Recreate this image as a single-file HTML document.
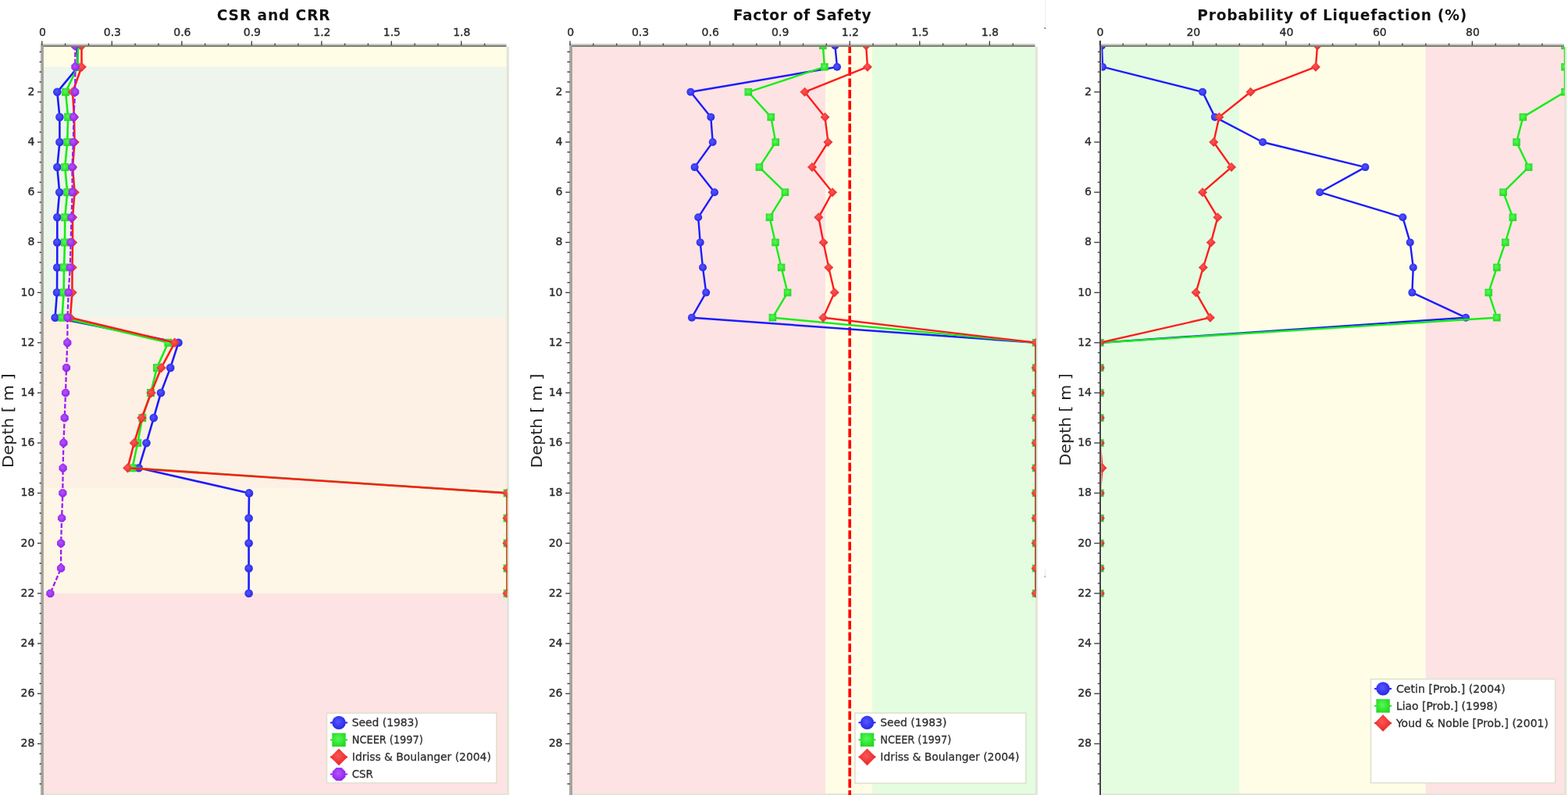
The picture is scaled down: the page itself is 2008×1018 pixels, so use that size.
<!DOCTYPE html><html><head><meta charset="utf-8"><title>Liquefaction charts</title><style>html,body{margin:0;padding:0;background:#fff}body{width:2008px;height:1018px;overflow:hidden}svg{display:block}</style></head><body><svg width="2008" height="1018" viewBox="0 0 2008 1018">
<style>.t{font:bold 18.6px "DejaVu Sans",sans-serif;fill:#111}.n{font:14px "DejaVu Sans",sans-serif;fill:#2a2a2a;stroke:#2a2a2a;stroke-width:0.35px}.l{font:13.8px "DejaVu Sans",sans-serif;fill:#303030;stroke:#303030;stroke-width:0.3px}.d{font:19px "DejaVu Sans",sans-serif;fill:#222}</style>
<defs><radialGradient id="gb" cx="45%" cy="42%" r="60%"><stop offset="0" stop-color="#5656ff"/><stop offset="1" stop-color="#2626e6"/></radialGradient><radialGradient id="gg" cx="45%" cy="42%" r="60%"><stop offset="0" stop-color="#55fb55"/><stop offset="1" stop-color="#25d825"/></radialGradient><radialGradient id="gr" cx="45%" cy="42%" r="60%"><stop offset="0" stop-color="#ff5555"/><stop offset="1" stop-color="#e42424"/></radialGradient><radialGradient id="gp" cx="45%" cy="42%" r="60%"><stop offset="0" stop-color="#b455ff"/><stop offset="1" stop-color="#8e22e8"/></radialGradient></defs>
<rect width="2008" height="1018" fill="#fff"/>
<clipPath id="c1"><rect x="54" y="60" width="595.5" height="958"/></clipPath>
<rect x="54" y="60" width="594.5" height="25.7" fill="#fffde6"/>
<rect x="54" y="85.7" width="594.5" height="321" fill="#eef5ec"/>
<rect x="54" y="406.7" width="594.5" height="218.3" fill="#fdf0e4"/>
<rect x="54" y="625" width="594.5" height="134.8" fill="#fef6e6"/>
<rect x="54" y="759.8" width="594.5" height="258.2" fill="#fde3e3"/>
<rect x="648.5" y="60" width="3.4" height="958" fill="#e3e5d6"/>
<rect x="54" y="1016" width="597.0" height="2" fill="#e3e5d6"/>
<text x="350.2" y="26" text-anchor="middle" class="t" textLength="145" lengthAdjust="spacing">CSR and CRR</text>
<text x="54.4" y="45.8" text-anchor="middle" class="n">0</text>
<text x="143.9" y="45.8" text-anchor="middle" class="n">0.3</text>
<text x="233.4" y="45.8" text-anchor="middle" class="n">0.6</text>
<text x="322.9" y="45.8" text-anchor="middle" class="n">0.9</text>
<text x="412.4" y="45.8" text-anchor="middle" class="n">1.2</text>
<text x="501.9" y="45.8" text-anchor="middle" class="n">1.5</text>
<text x="591.3" y="45.8" text-anchor="middle" class="n">1.8</text>
<rect x="52" y="56" width="596.5" height="2" fill="#c9c9cb"/>
<rect x="52" y="58" width="596.5" height="2" fill="#7e7f6f"/>
<rect x="52" y="56" width="2.2" height="962" fill="#adadad"/>
<rect x="54" y="58" width="1.8" height="960" fill="#9c9c8c"/>
<rect x="53.1" y="52.5" width="1.4" height="5.5" fill="#444"/>
<rect x="82.9" y="55.5" width="1.4" height="2.5" fill="#444"/>
<rect x="112.8" y="55.5" width="1.4" height="2.5" fill="#444"/>
<rect x="142.6" y="52.5" width="1.4" height="5.5" fill="#444"/>
<rect x="172.4" y="55.5" width="1.4" height="2.5" fill="#444"/>
<rect x="202.2" y="55.5" width="1.4" height="2.5" fill="#444"/>
<rect x="232.1" y="52.5" width="1.4" height="5.5" fill="#444"/>
<rect x="261.9" y="55.5" width="1.4" height="2.5" fill="#444"/>
<rect x="291.7" y="55.5" width="1.4" height="2.5" fill="#444"/>
<rect x="321.6" y="52.5" width="1.4" height="5.5" fill="#444"/>
<rect x="351.4" y="55.5" width="1.4" height="2.5" fill="#444"/>
<rect x="381.2" y="55.5" width="1.4" height="2.5" fill="#444"/>
<rect x="411.1" y="52.5" width="1.4" height="5.5" fill="#444"/>
<rect x="440.9" y="55.5" width="1.4" height="2.5" fill="#444"/>
<rect x="470.7" y="55.5" width="1.4" height="2.5" fill="#444"/>
<rect x="500.6" y="52.5" width="1.4" height="5.5" fill="#444"/>
<rect x="530.4" y="55.5" width="1.4" height="2.5" fill="#444"/>
<rect x="560.2" y="55.5" width="1.4" height="2.5" fill="#444"/>
<rect x="590" y="52.5" width="1.4" height="5.5" fill="#444"/>
<rect x="619.9" y="55.5" width="1.4" height="2.5" fill="#444"/>
<rect x="50.5" y="65.7" width="2.5" height="1.4" fill="#444"/>
<rect x="50.5" y="78.6" width="2.5" height="1.4" fill="#444"/>
<rect x="50.5" y="91.4" width="2.5" height="1.4" fill="#444"/>
<rect x="50.5" y="104.3" width="2.5" height="1.4" fill="#444"/>
<rect x="48" y="117.1" width="5" height="1.4" fill="#444"/>
<text x="44.4" y="121.8" text-anchor="end" class="n">2</text>
<rect x="50.5" y="129.9" width="2.5" height="1.4" fill="#444"/>
<rect x="50.5" y="142.8" width="2.5" height="1.4" fill="#444"/>
<rect x="50.5" y="155.6" width="2.5" height="1.4" fill="#444"/>
<rect x="50.5" y="168.5" width="2.5" height="1.4" fill="#444"/>
<rect x="48" y="181.3" width="5" height="1.4" fill="#444"/>
<text x="44.4" y="186" text-anchor="end" class="n">4</text>
<rect x="50.5" y="194.1" width="2.5" height="1.4" fill="#444"/>
<rect x="50.5" y="207" width="2.5" height="1.4" fill="#444"/>
<rect x="50.5" y="219.8" width="2.5" height="1.4" fill="#444"/>
<rect x="50.5" y="232.7" width="2.5" height="1.4" fill="#444"/>
<rect x="48" y="245.5" width="5" height="1.4" fill="#444"/>
<text x="44.4" y="250.2" text-anchor="end" class="n">6</text>
<rect x="50.5" y="258.3" width="2.5" height="1.4" fill="#444"/>
<rect x="50.5" y="271.2" width="2.5" height="1.4" fill="#444"/>
<rect x="50.5" y="284" width="2.5" height="1.4" fill="#444"/>
<rect x="50.5" y="296.9" width="2.5" height="1.4" fill="#444"/>
<rect x="48" y="309.7" width="5" height="1.4" fill="#444"/>
<text x="44.4" y="314.4" text-anchor="end" class="n">8</text>
<rect x="50.5" y="322.5" width="2.5" height="1.4" fill="#444"/>
<rect x="50.5" y="335.4" width="2.5" height="1.4" fill="#444"/>
<rect x="50.5" y="348.2" width="2.5" height="1.4" fill="#444"/>
<rect x="50.5" y="361.1" width="2.5" height="1.4" fill="#444"/>
<rect x="48" y="373.9" width="5" height="1.4" fill="#444"/>
<text x="44.4" y="378.6" text-anchor="end" class="n">10</text>
<rect x="50.5" y="386.7" width="2.5" height="1.4" fill="#444"/>
<rect x="50.5" y="399.6" width="2.5" height="1.4" fill="#444"/>
<rect x="50.5" y="412.4" width="2.5" height="1.4" fill="#444"/>
<rect x="50.5" y="425.3" width="2.5" height="1.4" fill="#444"/>
<rect x="48" y="438.1" width="5" height="1.4" fill="#444"/>
<text x="44.4" y="442.8" text-anchor="end" class="n">12</text>
<rect x="50.5" y="450.9" width="2.5" height="1.4" fill="#444"/>
<rect x="50.5" y="463.8" width="2.5" height="1.4" fill="#444"/>
<rect x="50.5" y="476.6" width="2.5" height="1.4" fill="#444"/>
<rect x="50.5" y="489.5" width="2.5" height="1.4" fill="#444"/>
<rect x="48" y="502.3" width="5" height="1.4" fill="#444"/>
<text x="44.4" y="507" text-anchor="end" class="n">14</text>
<rect x="50.5" y="515.1" width="2.5" height="1.4" fill="#444"/>
<rect x="50.5" y="528" width="2.5" height="1.4" fill="#444"/>
<rect x="50.5" y="540.8" width="2.5" height="1.4" fill="#444"/>
<rect x="50.5" y="553.7" width="2.5" height="1.4" fill="#444"/>
<rect x="48" y="566.5" width="5" height="1.4" fill="#444"/>
<text x="44.4" y="571.2" text-anchor="end" class="n">16</text>
<rect x="50.5" y="579.3" width="2.5" height="1.4" fill="#444"/>
<rect x="50.5" y="592.2" width="2.5" height="1.4" fill="#444"/>
<rect x="50.5" y="605" width="2.5" height="1.4" fill="#444"/>
<rect x="50.5" y="617.9" width="2.5" height="1.4" fill="#444"/>
<rect x="48" y="630.7" width="5" height="1.4" fill="#444"/>
<text x="44.4" y="635.4" text-anchor="end" class="n">18</text>
<rect x="50.5" y="643.5" width="2.5" height="1.4" fill="#444"/>
<rect x="50.5" y="656.4" width="2.5" height="1.4" fill="#444"/>
<rect x="50.5" y="669.2" width="2.5" height="1.4" fill="#444"/>
<rect x="50.5" y="682.1" width="2.5" height="1.4" fill="#444"/>
<rect x="48" y="694.9" width="5" height="1.4" fill="#444"/>
<text x="44.4" y="699.6" text-anchor="end" class="n">20</text>
<rect x="50.5" y="707.7" width="2.5" height="1.4" fill="#444"/>
<rect x="50.5" y="720.6" width="2.5" height="1.4" fill="#444"/>
<rect x="50.5" y="733.4" width="2.5" height="1.4" fill="#444"/>
<rect x="50.5" y="746.3" width="2.5" height="1.4" fill="#444"/>
<rect x="48" y="759.1" width="5" height="1.4" fill="#444"/>
<text x="44.4" y="763.8" text-anchor="end" class="n">22</text>
<rect x="50.5" y="771.9" width="2.5" height="1.4" fill="#444"/>
<rect x="50.5" y="784.8" width="2.5" height="1.4" fill="#444"/>
<rect x="50.5" y="797.6" width="2.5" height="1.4" fill="#444"/>
<rect x="50.5" y="810.5" width="2.5" height="1.4" fill="#444"/>
<rect x="48" y="823.3" width="5" height="1.4" fill="#444"/>
<text x="44.4" y="828" text-anchor="end" class="n">24</text>
<rect x="50.5" y="836.1" width="2.5" height="1.4" fill="#444"/>
<rect x="50.5" y="849" width="2.5" height="1.4" fill="#444"/>
<rect x="50.5" y="861.8" width="2.5" height="1.4" fill="#444"/>
<rect x="50.5" y="874.7" width="2.5" height="1.4" fill="#444"/>
<rect x="48" y="887.5" width="5" height="1.4" fill="#444"/>
<text x="44.4" y="892.2" text-anchor="end" class="n">26</text>
<rect x="50.5" y="900.3" width="2.5" height="1.4" fill="#444"/>
<rect x="50.5" y="913.2" width="2.5" height="1.4" fill="#444"/>
<rect x="50.5" y="926" width="2.5" height="1.4" fill="#444"/>
<rect x="50.5" y="938.9" width="2.5" height="1.4" fill="#444"/>
<rect x="48" y="951.7" width="5" height="1.4" fill="#444"/>
<text x="44.4" y="956.4" text-anchor="end" class="n">28</text>
<rect x="50.5" y="964.5" width="2.5" height="1.4" fill="#444"/>
<rect x="50.5" y="977.4" width="2.5" height="1.4" fill="#444"/>
<rect x="50.5" y="990.2" width="2.5" height="1.4" fill="#444"/>
<rect x="50.5" y="1003.1" width="2.5" height="1.4" fill="#444"/>
<text transform="translate(16.6,538.6) rotate(-90)" text-anchor="middle" class="d" textLength="120.8" lengthAdjust="spacingAndGlyphs">Depth [ m ]</text>
<g clip-path="url(#c1)"><polyline points="98,58.4 100,85.7 73.3,117.8 76.4,149.9 76.4,182 73.3,214.1 76.2,246.2 73.3,278.3 73.3,310.4 73.2,342.5 73,374.6 70.6,406.7 228.5,438.8 218.2,470.9 206,503 196.8,535.1 187.5,567.2 177.7,599.3 319,631.4 318.6,663.5 318.6,695.6 318.6,727.7 318.6,759.8" fill="none" stroke="#1c1cff" stroke-width="2.6" stroke-linejoin="round"/><circle cx="98" cy="58.4" r="5.3" fill="url(#gb)"/><circle cx="100" cy="85.7" r="5.3" fill="url(#gb)"/><circle cx="73.3" cy="117.8" r="5.3" fill="url(#gb)"/><circle cx="76.4" cy="149.9" r="5.3" fill="url(#gb)"/><circle cx="76.4" cy="182" r="5.3" fill="url(#gb)"/><circle cx="73.3" cy="214.1" r="5.3" fill="url(#gb)"/><circle cx="76.2" cy="246.2" r="5.3" fill="url(#gb)"/><circle cx="73.3" cy="278.3" r="5.3" fill="url(#gb)"/><circle cx="73.3" cy="310.4" r="5.3" fill="url(#gb)"/><circle cx="73.2" cy="342.5" r="5.3" fill="url(#gb)"/><circle cx="73" cy="374.6" r="5.3" fill="url(#gb)"/><circle cx="70.6" cy="406.7" r="5.3" fill="url(#gb)"/><circle cx="228.5" cy="438.8" r="5.3" fill="url(#gb)"/><circle cx="218.2" cy="470.9" r="5.3" fill="url(#gb)"/><circle cx="206" cy="503" r="5.3" fill="url(#gb)"/><circle cx="196.8" cy="535.1" r="5.3" fill="url(#gb)"/><circle cx="187.5" cy="567.2" r="5.3" fill="url(#gb)"/><circle cx="177.7" cy="599.3" r="5.3" fill="url(#gb)"/><circle cx="319" cy="631.4" r="5.3" fill="url(#gb)"/><circle cx="318.6" cy="663.5" r="5.3" fill="url(#gb)"/><circle cx="318.6" cy="695.6" r="5.3" fill="url(#gb)"/><circle cx="318.6" cy="727.7" r="5.3" fill="url(#gb)"/><circle cx="318.6" cy="759.8" r="5.3" fill="url(#gb)"/></g>
<g clip-path="url(#c1)"><polyline points="100.1,58.4 99.5,85.7 84.1,117.8 87.1,149.9 86.2,182 83.2,214.1 86.2,246.2 83.2,278.3 83,310.4 82,342.5 81.6,374.6 79.5,406.7 215.4,438.8 201,470.9 193,503 182.3,535.1 176.2,567.2 169.5,599.3 649.6,631.4 649.6,663.5 649.6,695.6 649.6,727.7 649.6,759.8" fill="none" stroke="#18ec18" stroke-width="2.6" stroke-linejoin="round"/><rect x="95.1" y="53.4" width="10" height="10" fill="url(#gg)"/><rect x="94.5" y="80.7" width="10" height="10" fill="url(#gg)"/><rect x="79.1" y="112.8" width="10" height="10" fill="url(#gg)"/><rect x="82.1" y="144.9" width="10" height="10" fill="url(#gg)"/><rect x="81.2" y="177" width="10" height="10" fill="url(#gg)"/><rect x="78.2" y="209.1" width="10" height="10" fill="url(#gg)"/><rect x="81.2" y="241.2" width="10" height="10" fill="url(#gg)"/><rect x="78.2" y="273.3" width="10" height="10" fill="url(#gg)"/><rect x="78" y="305.4" width="10" height="10" fill="url(#gg)"/><rect x="77" y="337.5" width="10" height="10" fill="url(#gg)"/><rect x="76.6" y="369.6" width="10" height="10" fill="url(#gg)"/><rect x="74.5" y="401.7" width="10" height="10" fill="url(#gg)"/><rect x="210.4" y="433.8" width="10" height="10" fill="url(#gg)"/><rect x="196" y="465.9" width="10" height="10" fill="url(#gg)"/><rect x="188" y="498" width="10" height="10" fill="url(#gg)"/><rect x="177.3" y="530.1" width="10" height="10" fill="url(#gg)"/><rect x="171.2" y="562.2" width="10" height="10" fill="url(#gg)"/><rect x="164.5" y="594.3" width="10" height="10" fill="url(#gg)"/><rect x="644.6" y="626.4" width="10" height="10" fill="url(#gg)"/><rect x="644.6" y="658.5" width="10" height="10" fill="url(#gg)"/><rect x="644.6" y="690.6" width="10" height="10" fill="url(#gg)"/><rect x="644.6" y="722.7" width="10" height="10" fill="url(#gg)"/><rect x="644.6" y="754.8" width="10" height="10" fill="url(#gg)"/></g>
<g clip-path="url(#c1)"><polyline points="104.5,58.4 104.5,85.7 93,117.8 95,149.9 95.5,182 93,214.1 95.5,246.2 93,278.3 93,310.4 92.5,342.5 92.4,374.6 90,406.7 223.7,438.8 206.5,470.9 193.6,503 181.5,535.1 171.8,567.2 163.5,599.3 649.6,631.4 649.6,663.5 649.6,695.6 649.6,727.7 649.6,759.8" fill="none" stroke="#ff1c1c" stroke-width="2.6" stroke-linejoin="round"/><path d="M104.5 52.2L110.8 58.4L104.5 64.7L98.2 58.4Z" fill="url(#gr)"/><path d="M104.5 79.5L110.8 85.7L104.5 92L98.2 85.7Z" fill="url(#gr)"/><path d="M93 111.6L99.2 117.8L93 124.1L86.8 117.8Z" fill="url(#gr)"/><path d="M95 143.7L101.2 149.9L95 156.2L88.8 149.9Z" fill="url(#gr)"/><path d="M95.5 175.8L101.8 182L95.5 188.2L89.2 182Z" fill="url(#gr)"/><path d="M93 207.8L99.2 214.1L93 220.3L86.8 214.1Z" fill="url(#gr)"/><path d="M95.5 240L101.8 246.2L95.5 252.5L89.2 246.2Z" fill="url(#gr)"/><path d="M93 272.1L99.2 278.3L93 284.6L86.8 278.3Z" fill="url(#gr)"/><path d="M93 304.2L99.2 310.4L93 316.7L86.8 310.4Z" fill="url(#gr)"/><path d="M92.5 336.3L98.8 342.5L92.5 348.8L86.2 342.5Z" fill="url(#gr)"/><path d="M92.4 368.4L98.7 374.6L92.4 380.9L86.2 374.6Z" fill="url(#gr)"/><path d="M90 400.5L96.2 406.7L90 413L83.8 406.7Z" fill="url(#gr)"/><path d="M223.7 432.6L229.9 438.8L223.7 445.1L217.4 438.8Z" fill="url(#gr)"/><path d="M206.5 464.7L212.8 470.9L206.5 477.2L200.2 470.9Z" fill="url(#gr)"/><path d="M193.6 496.8L199.8 503L193.6 509.3L187.3 503Z" fill="url(#gr)"/><path d="M181.5 528.9L187.8 535.1L181.5 541.4L175.2 535.1Z" fill="url(#gr)"/><path d="M171.8 561L178.1 567.2L171.8 573.5L165.6 567.2Z" fill="url(#gr)"/><path d="M163.5 593.1L169.8 599.3L163.5 605.6L157.2 599.3Z" fill="url(#gr)"/><path d="M649.6 625.2L655.9 631.4L649.6 637.7L643.4 631.4Z" fill="url(#gr)"/><path d="M649.6 657.2L655.9 663.5L649.6 669.8L643.4 663.5Z" fill="url(#gr)"/><path d="M649.6 689.4L655.9 695.6L649.6 701.9L643.4 695.6Z" fill="url(#gr)"/><path d="M649.6 721.5L655.9 727.7L649.6 734L643.4 727.7Z" fill="url(#gr)"/><path d="M649.6 753.6L655.9 759.8L649.6 766.1L643.4 759.8Z" fill="url(#gr)"/></g>
<g clip-path="url(#c1)"><polyline points="96.2,58.4 96.4,85.7 96.2,117.8 94.3,149.9 93.9,182 92.4,214.1 92.7,246.2 91.5,278.3 90.6,310.4 89.8,342.5 87.7,374.6 86.5,406.7 86.3,438.8 85,470.9 84,503 82.7,535.1 81.4,567.2 80.6,599.3 80.3,631.4 79.1,663.5 78.1,695.6 78.1,727.7 64.4,759.8" fill="none" stroke="#9c1cf6" stroke-width="2.3" stroke-linejoin="round" stroke-dasharray="6 2.5"/><polygon points="101.3,60.5 98.3,63.6 94.1,63.6 91.1,60.5 91.1,56.3 94.1,53.3 98.3,53.3 101.3,56.3" fill="url(#gp)"/><polygon points="101.5,87.8 98.5,90.8 94.3,90.8 91.3,87.8 91.3,83.6 94.3,80.6 98.5,80.6 101.5,83.6" fill="url(#gp)"/><polygon points="101.3,119.9 98.3,122.9 94.1,122.9 91.1,119.9 91.1,115.7 94.1,112.7 98.3,112.7 101.3,115.7" fill="url(#gp)"/><polygon points="99.4,152 96.4,155 92.2,155 89.2,152 89.2,147.8 92.2,144.8 96.4,144.8 99.4,147.8" fill="url(#gp)"/><polygon points="99,184.1 96,187.1 91.8,187.1 88.8,184.1 88.8,179.9 91.8,176.9 96,176.9 99,179.9" fill="url(#gp)"/><polygon points="97.5,216.2 94.5,219.2 90.3,219.2 87.3,216.2 87.3,212 90.3,209 94.5,209 97.5,212" fill="url(#gp)"/><polygon points="97.8,248.3 94.8,251.3 90.6,251.3 87.6,248.3 87.6,244.1 90.6,241.1 94.8,241.1 97.8,244.1" fill="url(#gp)"/><polygon points="96.6,280.4 93.6,283.4 89.4,283.4 86.4,280.4 86.4,276.2 89.4,273.2 93.6,273.2 96.6,276.2" fill="url(#gp)"/><polygon points="95.7,312.5 92.7,315.5 88.5,315.5 85.5,312.5 85.5,308.3 88.5,305.3 92.7,305.3 95.7,308.3" fill="url(#gp)"/><polygon points="94.9,344.6 91.9,347.6 87.7,347.6 84.7,344.6 84.7,340.4 87.7,337.4 91.9,337.4 94.9,340.4" fill="url(#gp)"/><polygon points="92.8,376.7 89.8,379.7 85.6,379.7 82.6,376.7 82.6,372.5 85.6,369.5 89.8,369.5 92.8,372.5" fill="url(#gp)"/><polygon points="91.6,408.8 88.6,411.8 84.4,411.8 81.4,408.8 81.4,404.6 84.4,401.6 88.6,401.6 91.6,404.6" fill="url(#gp)"/><polygon points="91.4,440.9 88.4,443.9 84.2,443.9 81.2,440.9 81.2,436.7 84.2,433.7 88.4,433.7 91.4,436.7" fill="url(#gp)"/><polygon points="90.1,473 87.1,476 82.9,476 79.9,473 79.9,468.8 82.9,465.8 87.1,465.8 90.1,468.8" fill="url(#gp)"/><polygon points="89.1,505.1 86.1,508.1 81.9,508.1 78.9,505.1 78.9,500.9 81.9,497.9 86.1,497.9 89.1,500.9" fill="url(#gp)"/><polygon points="87.8,537.2 84.8,540.2 80.6,540.2 77.6,537.2 77.6,533 80.6,530 84.8,530 87.8,533" fill="url(#gp)"/><polygon points="86.5,569.3 83.5,572.3 79.3,572.3 76.3,569.3 76.3,565.1 79.3,562.1 83.5,562.1 86.5,565.1" fill="url(#gp)"/><polygon points="85.7,601.4 82.7,604.4 78.5,604.4 75.5,601.4 75.5,597.2 78.5,594.2 82.7,594.2 85.7,597.2" fill="url(#gp)"/><polygon points="85.4,633.5 82.4,636.5 78.2,636.5 75.2,633.5 75.2,629.3 78.2,626.3 82.4,626.3 85.4,629.3" fill="url(#gp)"/><polygon points="84.2,665.6 81.2,668.6 77,668.6 74,665.6 74,661.4 77,658.4 81.2,658.4 84.2,661.4" fill="url(#gp)"/><polygon points="83.2,697.7 80.2,700.7 76,700.7 73,697.7 73,693.5 76,690.5 80.2,690.5 83.2,693.5" fill="url(#gp)"/><polygon points="83.2,729.8 80.2,732.8 76,732.8 73,729.8 73,725.6 76,722.6 80.2,722.6 83.2,725.6" fill="url(#gp)"/><polygon points="69.5,761.9 66.5,764.9 62.3,764.9 59.3,761.9 59.3,757.7 62.3,754.7 66.5,754.7 69.5,757.7" fill="url(#gp)"/></g>
<rect x="418.4" y="913.1" width="217.5" height="89.4" fill="#fff" stroke="#dfe1cf" stroke-width="1.6"/>
<line x1="423" y1="925.4" x2="445" y2="925.4" stroke="#1c1cff" stroke-width="2"/>
<circle cx="434" cy="925.4" r="8.7" fill="url(#gb)"/>
<text x="450.8" y="930.4" class="l" textLength="85" lengthAdjust="spacingAndGlyphs">Seed (1983)</text>
<line x1="423" y1="947.4" x2="445" y2="947.4" stroke="#18ec18" stroke-width="2"/>
<rect x="425.3" y="938.7" width="17.4" height="17.4" fill="url(#gg)"/>
<text x="450.8" y="952.4" class="l" textLength="91" lengthAdjust="spacingAndGlyphs">NCEER (1997)</text>
<line x1="423" y1="969.4" x2="445" y2="969.4" stroke="#ff1c1c" stroke-width="2"/>
<path d="M434 958.5L444.9 969.4L434 980.3L423.1 969.4Z" fill="url(#gr)"/>
<text x="450.8" y="974.4" class="l" textLength="178" lengthAdjust="spacingAndGlyphs">Idriss &amp; Boulanger (2004)</text>
<line x1="423" y1="991.4" x2="445" y2="991.4" stroke="#9c1cf6" stroke-width="2"/>
<polygon points="442.4,994.9 437.5,999.8 430.5,999.8 425.6,994.9 425.6,987.9 430.5,983 437.5,983 442.4,987.9" fill="url(#gp)"/>
<text x="450.8" y="996.4" class="l" textLength="27" lengthAdjust="spacingAndGlyphs">CSR</text>
<clipPath id="c2"><rect x="731" y="60" width="595.5" height="958"/></clipPath>
<rect x="731" y="60" width="326" height="958" fill="#fde3e3"/>
<rect x="1057" y="60" width="60" height="958" fill="#fffde6"/>
<rect x="1117" y="60" width="208.5" height="958" fill="#e4fde0"/>
<rect x="1325.5" y="60" width="3.4" height="958" fill="#e3e5d6"/>
<rect x="731" y="1016" width="597.0" height="2" fill="#e3e5d6"/>
<text x="1027.2" y="26" text-anchor="middle" class="t" textLength="177" lengthAdjust="spacing">Factor of Safety</text>
<text x="730.6" y="45.8" text-anchor="middle" class="n">0</text>
<text x="820.1" y="45.8" text-anchor="middle" class="n">0.3</text>
<text x="909.7" y="45.8" text-anchor="middle" class="n">0.6</text>
<text x="999.2" y="45.8" text-anchor="middle" class="n">0.9</text>
<text x="1088.8" y="45.8" text-anchor="middle" class="n">1.2</text>
<text x="1178.3" y="45.8" text-anchor="middle" class="n">1.5</text>
<text x="1267.9" y="45.8" text-anchor="middle" class="n">1.8</text>
<rect x="729" y="56" width="596.5" height="2" fill="#c9c9cb"/>
<rect x="729" y="58" width="596.5" height="2" fill="#7e7f6f"/>
<rect x="729" y="56" width="2.2" height="962" fill="#adadad"/>
<rect x="731" y="58" width="1.8" height="960" fill="#9c9c8c"/>
<rect x="729.3" y="52.5" width="1.4" height="5.5" fill="#444"/>
<rect x="759.1" y="55.5" width="1.4" height="2.5" fill="#444"/>
<rect x="789" y="55.5" width="1.4" height="2.5" fill="#444"/>
<rect x="818.8" y="52.5" width="1.4" height="5.5" fill="#444"/>
<rect x="848.7" y="55.5" width="1.4" height="2.5" fill="#444"/>
<rect x="878.5" y="55.5" width="1.4" height="2.5" fill="#444"/>
<rect x="908.4" y="52.5" width="1.4" height="5.5" fill="#444"/>
<rect x="938.2" y="55.5" width="1.4" height="2.5" fill="#444"/>
<rect x="968.1" y="55.5" width="1.4" height="2.5" fill="#444"/>
<rect x="998" y="52.5" width="1.4" height="5.5" fill="#444"/>
<rect x="1027.8" y="55.5" width="1.4" height="2.5" fill="#444"/>
<rect x="1057.6" y="55.5" width="1.4" height="2.5" fill="#444"/>
<rect x="1087.5" y="52.5" width="1.4" height="5.5" fill="#444"/>
<rect x="1117.3" y="55.5" width="1.4" height="2.5" fill="#444"/>
<rect x="1147.2" y="55.5" width="1.4" height="2.5" fill="#444"/>
<rect x="1177" y="52.5" width="1.4" height="5.5" fill="#444"/>
<rect x="1206.9" y="55.5" width="1.4" height="2.5" fill="#444"/>
<rect x="1236.8" y="55.5" width="1.4" height="2.5" fill="#444"/>
<rect x="1266.6" y="52.5" width="1.4" height="5.5" fill="#444"/>
<rect x="1296.5" y="55.5" width="1.4" height="2.5" fill="#444"/>
<rect x="726.4" y="65.7" width="3.6" height="1.4" fill="#444"/>
<rect x="726.4" y="78.6" width="3.6" height="1.4" fill="#444"/>
<rect x="726.4" y="91.4" width="3.6" height="1.4" fill="#444"/>
<rect x="726.4" y="104.3" width="3.6" height="1.4" fill="#444"/>
<rect x="724.2" y="117.1" width="5.8" height="1.4" fill="#444"/>
<text x="720.5" y="121.8" text-anchor="end" class="n">2</text>
<rect x="726.4" y="129.9" width="3.6" height="1.4" fill="#444"/>
<rect x="726.4" y="142.8" width="3.6" height="1.4" fill="#444"/>
<rect x="726.4" y="155.6" width="3.6" height="1.4" fill="#444"/>
<rect x="726.4" y="168.5" width="3.6" height="1.4" fill="#444"/>
<rect x="724.2" y="181.3" width="5.8" height="1.4" fill="#444"/>
<text x="720.5" y="186" text-anchor="end" class="n">4</text>
<rect x="726.4" y="194.1" width="3.6" height="1.4" fill="#444"/>
<rect x="726.4" y="207" width="3.6" height="1.4" fill="#444"/>
<rect x="726.4" y="219.8" width="3.6" height="1.4" fill="#444"/>
<rect x="726.4" y="232.7" width="3.6" height="1.4" fill="#444"/>
<rect x="724.2" y="245.5" width="5.8" height="1.4" fill="#444"/>
<text x="720.5" y="250.2" text-anchor="end" class="n">6</text>
<rect x="726.4" y="258.3" width="3.6" height="1.4" fill="#444"/>
<rect x="726.4" y="271.2" width="3.6" height="1.4" fill="#444"/>
<rect x="726.4" y="284" width="3.6" height="1.4" fill="#444"/>
<rect x="726.4" y="296.9" width="3.6" height="1.4" fill="#444"/>
<rect x="724.2" y="309.7" width="5.8" height="1.4" fill="#444"/>
<text x="720.5" y="314.4" text-anchor="end" class="n">8</text>
<rect x="726.4" y="322.5" width="3.6" height="1.4" fill="#444"/>
<rect x="726.4" y="335.4" width="3.6" height="1.4" fill="#444"/>
<rect x="726.4" y="348.2" width="3.6" height="1.4" fill="#444"/>
<rect x="726.4" y="361.1" width="3.6" height="1.4" fill="#444"/>
<rect x="724.2" y="373.9" width="5.8" height="1.4" fill="#444"/>
<text x="720.5" y="378.6" text-anchor="end" class="n">10</text>
<rect x="726.4" y="386.7" width="3.6" height="1.4" fill="#444"/>
<rect x="726.4" y="399.6" width="3.6" height="1.4" fill="#444"/>
<rect x="726.4" y="412.4" width="3.6" height="1.4" fill="#444"/>
<rect x="726.4" y="425.3" width="3.6" height="1.4" fill="#444"/>
<rect x="724.2" y="438.1" width="5.8" height="1.4" fill="#444"/>
<text x="720.5" y="442.8" text-anchor="end" class="n">12</text>
<rect x="726.4" y="450.9" width="3.6" height="1.4" fill="#444"/>
<rect x="726.4" y="463.8" width="3.6" height="1.4" fill="#444"/>
<rect x="726.4" y="476.6" width="3.6" height="1.4" fill="#444"/>
<rect x="726.4" y="489.5" width="3.6" height="1.4" fill="#444"/>
<rect x="724.2" y="502.3" width="5.8" height="1.4" fill="#444"/>
<text x="720.5" y="507" text-anchor="end" class="n">14</text>
<rect x="726.4" y="515.1" width="3.6" height="1.4" fill="#444"/>
<rect x="726.4" y="528" width="3.6" height="1.4" fill="#444"/>
<rect x="726.4" y="540.8" width="3.6" height="1.4" fill="#444"/>
<rect x="726.4" y="553.7" width="3.6" height="1.4" fill="#444"/>
<rect x="724.2" y="566.5" width="5.8" height="1.4" fill="#444"/>
<text x="720.5" y="571.2" text-anchor="end" class="n">16</text>
<rect x="726.4" y="579.3" width="3.6" height="1.4" fill="#444"/>
<rect x="726.4" y="592.2" width="3.6" height="1.4" fill="#444"/>
<rect x="726.4" y="605" width="3.6" height="1.4" fill="#444"/>
<rect x="726.4" y="617.9" width="3.6" height="1.4" fill="#444"/>
<rect x="724.2" y="630.7" width="5.8" height="1.4" fill="#444"/>
<text x="720.5" y="635.4" text-anchor="end" class="n">18</text>
<rect x="726.4" y="643.5" width="3.6" height="1.4" fill="#444"/>
<rect x="726.4" y="656.4" width="3.6" height="1.4" fill="#444"/>
<rect x="726.4" y="669.2" width="3.6" height="1.4" fill="#444"/>
<rect x="726.4" y="682.1" width="3.6" height="1.4" fill="#444"/>
<rect x="724.2" y="694.9" width="5.8" height="1.4" fill="#444"/>
<text x="720.5" y="699.6" text-anchor="end" class="n">20</text>
<rect x="726.4" y="707.7" width="3.6" height="1.4" fill="#444"/>
<rect x="726.4" y="720.6" width="3.6" height="1.4" fill="#444"/>
<rect x="726.4" y="733.4" width="3.6" height="1.4" fill="#444"/>
<rect x="726.4" y="746.3" width="3.6" height="1.4" fill="#444"/>
<rect x="724.2" y="759.1" width="5.8" height="1.4" fill="#444"/>
<text x="720.5" y="763.8" text-anchor="end" class="n">22</text>
<rect x="726.4" y="771.9" width="3.6" height="1.4" fill="#444"/>
<rect x="726.4" y="784.8" width="3.6" height="1.4" fill="#444"/>
<rect x="726.4" y="797.6" width="3.6" height="1.4" fill="#444"/>
<rect x="726.4" y="810.5" width="3.6" height="1.4" fill="#444"/>
<rect x="724.2" y="823.3" width="5.8" height="1.4" fill="#444"/>
<text x="720.5" y="828" text-anchor="end" class="n">24</text>
<rect x="726.4" y="836.1" width="3.6" height="1.4" fill="#444"/>
<rect x="726.4" y="849" width="3.6" height="1.4" fill="#444"/>
<rect x="726.4" y="861.8" width="3.6" height="1.4" fill="#444"/>
<rect x="726.4" y="874.7" width="3.6" height="1.4" fill="#444"/>
<rect x="724.2" y="887.5" width="5.8" height="1.4" fill="#444"/>
<text x="720.5" y="892.2" text-anchor="end" class="n">26</text>
<rect x="726.4" y="900.3" width="3.6" height="1.4" fill="#444"/>
<rect x="726.4" y="913.2" width="3.6" height="1.4" fill="#444"/>
<rect x="726.4" y="926" width="3.6" height="1.4" fill="#444"/>
<rect x="726.4" y="938.9" width="3.6" height="1.4" fill="#444"/>
<rect x="724.2" y="951.7" width="5.8" height="1.4" fill="#444"/>
<text x="720.5" y="956.4" text-anchor="end" class="n">28</text>
<rect x="726.4" y="964.5" width="3.6" height="1.4" fill="#444"/>
<rect x="726.4" y="977.4" width="3.6" height="1.4" fill="#444"/>
<rect x="726.4" y="990.2" width="3.6" height="1.4" fill="#444"/>
<rect x="726.4" y="1003.1" width="3.6" height="1.4" fill="#444"/>
<text transform="translate(693.6,538.9) rotate(-90)" text-anchor="middle" class="d" textLength="120.8" lengthAdjust="spacingAndGlyphs">Depth [ m ]</text>
<line x1="1088.2" y1="60" x2="1088.2" y2="1018" stroke="#f00" stroke-width="3.6" stroke-dasharray="11.1 3.37" stroke-dashoffset="3"/>
<g clip-path="url(#c2)"><polyline points="1069.4,58.4 1072,85.7 884.4,117.8 910.3,149.9 912.7,182 889.6,214.1 915,246.2 894.2,278.3 896.7,310.4 900,342.5 904.2,374.6 885.9,406.7 1326.6,438.8 1326.6,470.9 1326.6,503 1326.6,535.1 1326.6,567.2 1326.6,599.3 1326.6,631.4 1326.6,663.5 1326.6,695.6 1326.6,727.7 1326.6,759.8" fill="none" stroke="#1c1cff" stroke-width="2.4" stroke-linejoin="round"/><circle cx="1069.4" cy="58.4" r="5" fill="url(#gb)"/><circle cx="1072" cy="85.7" r="5" fill="url(#gb)"/><circle cx="884.4" cy="117.8" r="5" fill="url(#gb)"/><circle cx="910.3" cy="149.9" r="5" fill="url(#gb)"/><circle cx="912.7" cy="182" r="5" fill="url(#gb)"/><circle cx="889.6" cy="214.1" r="5" fill="url(#gb)"/><circle cx="915" cy="246.2" r="5" fill="url(#gb)"/><circle cx="894.2" cy="278.3" r="5" fill="url(#gb)"/><circle cx="896.7" cy="310.4" r="5" fill="url(#gb)"/><circle cx="900" cy="342.5" r="5" fill="url(#gb)"/><circle cx="904.2" cy="374.6" r="5" fill="url(#gb)"/><circle cx="885.9" cy="406.7" r="5" fill="url(#gb)"/><circle cx="1326.6" cy="438.8" r="5" fill="url(#gb)"/><circle cx="1326.6" cy="470.9" r="5" fill="url(#gb)"/><circle cx="1326.6" cy="503" r="5" fill="url(#gb)"/><circle cx="1326.6" cy="535.1" r="5" fill="url(#gb)"/><circle cx="1326.6" cy="567.2" r="5" fill="url(#gb)"/><circle cx="1326.6" cy="599.3" r="5" fill="url(#gb)"/><circle cx="1326.6" cy="631.4" r="5" fill="url(#gb)"/><circle cx="1326.6" cy="663.5" r="5" fill="url(#gb)"/><circle cx="1326.6" cy="695.6" r="5" fill="url(#gb)"/><circle cx="1326.6" cy="727.7" r="5" fill="url(#gb)"/><circle cx="1326.6" cy="759.8" r="5" fill="url(#gb)"/></g>
<g clip-path="url(#c2)"><polyline points="1053.8,58.4 1055.9,85.7 958.3,117.8 987.3,149.9 993.3,182 972.4,214.1 1005.4,246.2 985.5,278.3 993,310.4 1000.6,342.5 1008.6,374.6 989.4,406.7 1326.6,438.8 1326.6,470.9 1326.6,503 1326.6,535.1 1326.6,567.2 1326.6,599.3 1326.6,631.4 1326.6,663.5 1326.6,695.6 1326.6,727.7 1326.6,759.8" fill="none" stroke="#18ec18" stroke-width="2.4" stroke-linejoin="round"/><rect x="1049" y="53.6" width="9.6" height="9.6" fill="url(#gg)"/><rect x="1051.1" y="80.9" width="9.6" height="9.6" fill="url(#gg)"/><rect x="953.5" y="113" width="9.6" height="9.6" fill="url(#gg)"/><rect x="982.5" y="145.1" width="9.6" height="9.6" fill="url(#gg)"/><rect x="988.5" y="177.2" width="9.6" height="9.6" fill="url(#gg)"/><rect x="967.6" y="209.3" width="9.6" height="9.6" fill="url(#gg)"/><rect x="1000.6" y="241.4" width="9.6" height="9.6" fill="url(#gg)"/><rect x="980.7" y="273.5" width="9.6" height="9.6" fill="url(#gg)"/><rect x="988.2" y="305.6" width="9.6" height="9.6" fill="url(#gg)"/><rect x="995.8" y="337.7" width="9.6" height="9.6" fill="url(#gg)"/><rect x="1003.8" y="369.8" width="9.6" height="9.6" fill="url(#gg)"/><rect x="984.6" y="401.9" width="9.6" height="9.6" fill="url(#gg)"/><rect x="1321.8" y="434" width="9.6" height="9.6" fill="url(#gg)"/><rect x="1321.8" y="466.1" width="9.6" height="9.6" fill="url(#gg)"/><rect x="1321.8" y="498.2" width="9.6" height="9.6" fill="url(#gg)"/><rect x="1321.8" y="530.3" width="9.6" height="9.6" fill="url(#gg)"/><rect x="1321.8" y="562.4" width="9.6" height="9.6" fill="url(#gg)"/><rect x="1321.8" y="594.5" width="9.6" height="9.6" fill="url(#gg)"/><rect x="1321.8" y="626.6" width="9.6" height="9.6" fill="url(#gg)"/><rect x="1321.8" y="658.7" width="9.6" height="9.6" fill="url(#gg)"/><rect x="1321.8" y="690.8" width="9.6" height="9.6" fill="url(#gg)"/><rect x="1321.8" y="722.9" width="9.6" height="9.6" fill="url(#gg)"/><rect x="1321.8" y="755" width="9.6" height="9.6" fill="url(#gg)"/></g>
<g clip-path="url(#c2)"><polyline points="1109.2,58.4 1110.9,85.7 1030.5,117.8 1056.5,149.9 1060.4,182 1040,214.1 1066,246.2 1048.3,278.3 1054.5,310.4 1061.2,342.5 1068.7,374.6 1054.2,406.7 1326.6,438.8 1326.6,470.9 1326.6,503 1326.6,535.1 1326.6,567.2 1326.6,599.3 1326.6,631.4 1326.6,663.5 1326.6,695.6 1326.6,727.7 1326.6,759.8" fill="none" stroke="#ff1c1c" stroke-width="2.4" stroke-linejoin="round"/><path d="M1109.2 52.4L1115.2 58.4L1109.2 64.4L1103.2 58.4Z" fill="url(#gr)"/><path d="M1110.9 79.7L1116.9 85.7L1110.9 91.7L1104.9 85.7Z" fill="url(#gr)"/><path d="M1030.5 111.8L1036.5 117.8L1030.5 123.8L1024.5 117.8Z" fill="url(#gr)"/><path d="M1056.5 143.9L1062.5 149.9L1056.5 155.9L1050.5 149.9Z" fill="url(#gr)"/><path d="M1060.4 176L1066.4 182L1060.4 188L1054.4 182Z" fill="url(#gr)"/><path d="M1040 208.1L1046 214.1L1040 220.1L1034 214.1Z" fill="url(#gr)"/><path d="M1066 240.2L1072 246.2L1066 252.2L1060 246.2Z" fill="url(#gr)"/><path d="M1048.3 272.3L1054.3 278.3L1048.3 284.3L1042.3 278.3Z" fill="url(#gr)"/><path d="M1054.5 304.4L1060.5 310.4L1054.5 316.4L1048.5 310.4Z" fill="url(#gr)"/><path d="M1061.2 336.5L1067.2 342.5L1061.2 348.5L1055.2 342.5Z" fill="url(#gr)"/><path d="M1068.7 368.6L1074.7 374.6L1068.7 380.6L1062.7 374.6Z" fill="url(#gr)"/><path d="M1054.2 400.7L1060.2 406.7L1054.2 412.7L1048.2 406.7Z" fill="url(#gr)"/><path d="M1326.6 432.8L1332.6 438.8L1326.6 444.8L1320.6 438.8Z" fill="url(#gr)"/><path d="M1326.6 464.9L1332.6 470.9L1326.6 476.9L1320.6 470.9Z" fill="url(#gr)"/><path d="M1326.6 497L1332.6 503L1326.6 509L1320.6 503Z" fill="url(#gr)"/><path d="M1326.6 529.1L1332.6 535.1L1326.6 541.1L1320.6 535.1Z" fill="url(#gr)"/><path d="M1326.6 561.2L1332.6 567.2L1326.6 573.2L1320.6 567.2Z" fill="url(#gr)"/><path d="M1326.6 593.3L1332.6 599.3L1326.6 605.3L1320.6 599.3Z" fill="url(#gr)"/><path d="M1326.6 625.4L1332.6 631.4L1326.6 637.4L1320.6 631.4Z" fill="url(#gr)"/><path d="M1326.6 657.5L1332.6 663.5L1326.6 669.5L1320.6 663.5Z" fill="url(#gr)"/><path d="M1326.6 689.6L1332.6 695.6L1326.6 701.6L1320.6 695.6Z" fill="url(#gr)"/><path d="M1326.6 721.7L1332.6 727.7L1326.6 733.7L1320.6 727.7Z" fill="url(#gr)"/><path d="M1326.6 753.8L1332.6 759.8L1326.6 765.8L1320.6 759.8Z" fill="url(#gr)"/></g>
<rect x="1094.9" y="913" width="218.8" height="90" fill="#fff" stroke="#dfe1cf" stroke-width="1.6"/>
<line x1="1099.5" y1="925.3" x2="1121.5" y2="925.3" stroke="#1c1cff" stroke-width="2"/>
<circle cx="1110.5" cy="925.3" r="8.7" fill="url(#gb)"/>
<text x="1127.3" y="930.3" class="l" textLength="85" lengthAdjust="spacingAndGlyphs">Seed (1983)</text>
<line x1="1099.5" y1="947.3" x2="1121.5" y2="947.3" stroke="#18ec18" stroke-width="2"/>
<rect x="1101.8" y="938.6" width="17.4" height="17.4" fill="url(#gg)"/>
<text x="1127.3" y="952.3" class="l" textLength="91" lengthAdjust="spacingAndGlyphs">NCEER (1997)</text>
<line x1="1099.5" y1="969.3" x2="1121.5" y2="969.3" stroke="#ff1c1c" stroke-width="2"/>
<path d="M1110.5 958.4L1121.4 969.3L1110.5 980.2L1099.6 969.3Z" fill="url(#gr)"/>
<text x="1127.3" y="974.3" class="l" textLength="178" lengthAdjust="spacingAndGlyphs">Idriss &amp; Boulanger (2004)</text>
<clipPath id="c3"><rect x="1410.6" y="60" width="593.4000000000001" height="958"/></clipPath>
<rect x="1410.6" y="60" width="176.7" height="958" fill="#e4fde0"/>
<rect x="1587.3" y="60" width="238.5" height="958" fill="#fffde6"/>
<rect x="1825.8" y="60" width="177.2" height="958" fill="#fde3e3"/>
<rect x="2003" y="60" width="3.4" height="958" fill="#e3e5d6"/>
<rect x="1410.6" y="1016" width="594.9000000000001" height="2" fill="#e3e5d6"/>
<text x="1705.8" y="26" text-anchor="middle" class="t" textLength="345" lengthAdjust="spacing">Probability of Liquefaction (%)</text>
<text x="1409" y="45.8" text-anchor="middle" class="n">0</text>
<text x="1528.3" y="45.8" text-anchor="middle" class="n">20</text>
<text x="1647.5" y="45.8" text-anchor="middle" class="n">40</text>
<text x="1766.8" y="45.8" text-anchor="middle" class="n">60</text>
<text x="1886" y="45.8" text-anchor="middle" class="n">80</text>
<rect x="1408.6" y="56" width="594.4" height="2" fill="#c9c9cb"/>
<rect x="1408.6" y="58" width="594.4" height="2" fill="#7e7f6f"/>
<rect x="1408" y="52" width="2" height="966" fill="#454545"/>
<rect x="1407.7" y="52.5" width="1.4" height="5.5" fill="#444"/>
<rect x="1437.5" y="55.5" width="1.4" height="2.5" fill="#444"/>
<rect x="1467.3" y="55.5" width="1.4" height="2.5" fill="#444"/>
<rect x="1497.1" y="55.5" width="1.4" height="2.5" fill="#444"/>
<rect x="1527" y="52.5" width="1.4" height="5.5" fill="#444"/>
<rect x="1556.8" y="55.5" width="1.4" height="2.5" fill="#444"/>
<rect x="1586.6" y="55.5" width="1.4" height="2.5" fill="#444"/>
<rect x="1616.4" y="55.5" width="1.4" height="2.5" fill="#444"/>
<rect x="1646.2" y="52.5" width="1.4" height="5.5" fill="#444"/>
<rect x="1676" y="55.5" width="1.4" height="2.5" fill="#444"/>
<rect x="1705.9" y="55.5" width="1.4" height="2.5" fill="#444"/>
<rect x="1735.7" y="55.5" width="1.4" height="2.5" fill="#444"/>
<rect x="1765.5" y="52.5" width="1.4" height="5.5" fill="#444"/>
<rect x="1795.3" y="55.5" width="1.4" height="2.5" fill="#444"/>
<rect x="1825.1" y="55.5" width="1.4" height="2.5" fill="#444"/>
<rect x="1854.9" y="55.5" width="1.4" height="2.5" fill="#444"/>
<rect x="1884.7" y="52.5" width="1.4" height="5.5" fill="#444"/>
<rect x="1914.6" y="55.5" width="1.4" height="2.5" fill="#444"/>
<rect x="1944.4" y="55.5" width="1.4" height="2.5" fill="#444"/>
<rect x="1974.2" y="55.5" width="1.4" height="2.5" fill="#444"/>
<rect x="1405.8" y="65.7" width="3.2" height="1.4" fill="#444"/>
<rect x="1405.8" y="78.6" width="3.2" height="1.4" fill="#444"/>
<rect x="1405.8" y="91.4" width="3.2" height="1.4" fill="#444"/>
<rect x="1405.8" y="104.3" width="3.2" height="1.4" fill="#444"/>
<rect x="1401.2" y="117.1" width="7.8" height="1.4" fill="#444"/>
<text x="1398" y="121.8" text-anchor="end" class="n">2</text>
<rect x="1405.8" y="129.9" width="3.2" height="1.4" fill="#444"/>
<rect x="1405.8" y="142.8" width="3.2" height="1.4" fill="#444"/>
<rect x="1405.8" y="155.6" width="3.2" height="1.4" fill="#444"/>
<rect x="1405.8" y="168.5" width="3.2" height="1.4" fill="#444"/>
<rect x="1401.2" y="181.3" width="7.8" height="1.4" fill="#444"/>
<text x="1398" y="186" text-anchor="end" class="n">4</text>
<rect x="1405.8" y="194.1" width="3.2" height="1.4" fill="#444"/>
<rect x="1405.8" y="207" width="3.2" height="1.4" fill="#444"/>
<rect x="1405.8" y="219.8" width="3.2" height="1.4" fill="#444"/>
<rect x="1405.8" y="232.7" width="3.2" height="1.4" fill="#444"/>
<rect x="1401.2" y="245.5" width="7.8" height="1.4" fill="#444"/>
<text x="1398" y="250.2" text-anchor="end" class="n">6</text>
<rect x="1405.8" y="258.3" width="3.2" height="1.4" fill="#444"/>
<rect x="1405.8" y="271.2" width="3.2" height="1.4" fill="#444"/>
<rect x="1405.8" y="284" width="3.2" height="1.4" fill="#444"/>
<rect x="1405.8" y="296.9" width="3.2" height="1.4" fill="#444"/>
<rect x="1401.2" y="309.7" width="7.8" height="1.4" fill="#444"/>
<text x="1398" y="314.4" text-anchor="end" class="n">8</text>
<rect x="1405.8" y="322.5" width="3.2" height="1.4" fill="#444"/>
<rect x="1405.8" y="335.4" width="3.2" height="1.4" fill="#444"/>
<rect x="1405.8" y="348.2" width="3.2" height="1.4" fill="#444"/>
<rect x="1405.8" y="361.1" width="3.2" height="1.4" fill="#444"/>
<rect x="1401.2" y="373.9" width="7.8" height="1.4" fill="#444"/>
<text x="1398" y="378.6" text-anchor="end" class="n">10</text>
<rect x="1405.8" y="386.7" width="3.2" height="1.4" fill="#444"/>
<rect x="1405.8" y="399.6" width="3.2" height="1.4" fill="#444"/>
<rect x="1405.8" y="412.4" width="3.2" height="1.4" fill="#444"/>
<rect x="1405.8" y="425.3" width="3.2" height="1.4" fill="#444"/>
<rect x="1401.2" y="438.1" width="7.8" height="1.4" fill="#444"/>
<text x="1398" y="442.8" text-anchor="end" class="n">12</text>
<rect x="1405.8" y="450.9" width="3.2" height="1.4" fill="#444"/>
<rect x="1405.8" y="463.8" width="3.2" height="1.4" fill="#444"/>
<rect x="1405.8" y="476.6" width="3.2" height="1.4" fill="#444"/>
<rect x="1405.8" y="489.5" width="3.2" height="1.4" fill="#444"/>
<rect x="1401.2" y="502.3" width="7.8" height="1.4" fill="#444"/>
<text x="1398" y="507" text-anchor="end" class="n">14</text>
<rect x="1405.8" y="515.1" width="3.2" height="1.4" fill="#444"/>
<rect x="1405.8" y="528" width="3.2" height="1.4" fill="#444"/>
<rect x="1405.8" y="540.8" width="3.2" height="1.4" fill="#444"/>
<rect x="1405.8" y="553.7" width="3.2" height="1.4" fill="#444"/>
<rect x="1401.2" y="566.5" width="7.8" height="1.4" fill="#444"/>
<text x="1398" y="571.2" text-anchor="end" class="n">16</text>
<rect x="1405.8" y="579.3" width="3.2" height="1.4" fill="#444"/>
<rect x="1405.8" y="592.2" width="3.2" height="1.4" fill="#444"/>
<rect x="1405.8" y="605" width="3.2" height="1.4" fill="#444"/>
<rect x="1405.8" y="617.9" width="3.2" height="1.4" fill="#444"/>
<rect x="1401.2" y="630.7" width="7.8" height="1.4" fill="#444"/>
<text x="1398" y="635.4" text-anchor="end" class="n">18</text>
<rect x="1405.8" y="643.5" width="3.2" height="1.4" fill="#444"/>
<rect x="1405.8" y="656.4" width="3.2" height="1.4" fill="#444"/>
<rect x="1405.8" y="669.2" width="3.2" height="1.4" fill="#444"/>
<rect x="1405.8" y="682.1" width="3.2" height="1.4" fill="#444"/>
<rect x="1401.2" y="694.9" width="7.8" height="1.4" fill="#444"/>
<text x="1398" y="699.6" text-anchor="end" class="n">20</text>
<rect x="1405.8" y="707.7" width="3.2" height="1.4" fill="#444"/>
<rect x="1405.8" y="720.6" width="3.2" height="1.4" fill="#444"/>
<rect x="1405.8" y="733.4" width="3.2" height="1.4" fill="#444"/>
<rect x="1405.8" y="746.3" width="3.2" height="1.4" fill="#444"/>
<rect x="1401.2" y="759.1" width="7.8" height="1.4" fill="#444"/>
<text x="1398" y="763.8" text-anchor="end" class="n">22</text>
<rect x="1405.8" y="771.9" width="3.2" height="1.4" fill="#444"/>
<rect x="1405.8" y="784.8" width="3.2" height="1.4" fill="#444"/>
<rect x="1405.8" y="797.6" width="3.2" height="1.4" fill="#444"/>
<rect x="1405.8" y="810.5" width="3.2" height="1.4" fill="#444"/>
<rect x="1401.2" y="823.3" width="7.8" height="1.4" fill="#444"/>
<text x="1398" y="828" text-anchor="end" class="n">24</text>
<rect x="1405.8" y="836.1" width="3.2" height="1.4" fill="#444"/>
<rect x="1405.8" y="849" width="3.2" height="1.4" fill="#444"/>
<rect x="1405.8" y="861.8" width="3.2" height="1.4" fill="#444"/>
<rect x="1405.8" y="874.7" width="3.2" height="1.4" fill="#444"/>
<rect x="1401.2" y="887.5" width="7.8" height="1.4" fill="#444"/>
<text x="1398" y="892.2" text-anchor="end" class="n">26</text>
<rect x="1405.8" y="900.3" width="3.2" height="1.4" fill="#444"/>
<rect x="1405.8" y="913.2" width="3.2" height="1.4" fill="#444"/>
<rect x="1405.8" y="926" width="3.2" height="1.4" fill="#444"/>
<rect x="1405.8" y="938.9" width="3.2" height="1.4" fill="#444"/>
<rect x="1401.2" y="951.7" width="7.8" height="1.4" fill="#444"/>
<text x="1398" y="956.4" text-anchor="end" class="n">28</text>
<rect x="1405.8" y="964.5" width="3.2" height="1.4" fill="#444"/>
<rect x="1405.8" y="977.4" width="3.2" height="1.4" fill="#444"/>
<rect x="1405.8" y="990.2" width="3.2" height="1.4" fill="#444"/>
<rect x="1405.8" y="1003.1" width="3.2" height="1.4" fill="#444"/>
<text transform="translate(1371.2,537.4) rotate(-90)" text-anchor="middle" class="d" textLength="118.3" lengthAdjust="spacingAndGlyphs">Depth [ m ]</text>
<g clip-path="url(#c3)"><polyline points="1411,58.4 1412,85.7 1540,117.8 1555.8,149.9 1617.1,182 1748.4,214.1 1690.2,246.2 1796.4,278.3 1805.8,310.4 1809.8,342.5 1808.4,374.6 1877.1,406.7 1408.8,438.8 1408.8,470.9 1408.8,503 1408.8,535.1 1408.8,567.2 1408.8,599.3 1408.8,631.4 1408.8,663.5 1408.8,695.6 1408.8,727.7 1408.8,759.8" fill="none" stroke="#1c1cff" stroke-width="2.4" stroke-linejoin="round"/><circle cx="1411" cy="58.4" r="5" fill="url(#gb)"/><circle cx="1412" cy="85.7" r="5" fill="url(#gb)"/><circle cx="1540" cy="117.8" r="5" fill="url(#gb)"/><circle cx="1555.8" cy="149.9" r="5" fill="url(#gb)"/><circle cx="1617.1" cy="182" r="5" fill="url(#gb)"/><circle cx="1748.4" cy="214.1" r="5" fill="url(#gb)"/><circle cx="1690.2" cy="246.2" r="5" fill="url(#gb)"/><circle cx="1796.4" cy="278.3" r="5" fill="url(#gb)"/><circle cx="1805.8" cy="310.4" r="5" fill="url(#gb)"/><circle cx="1809.8" cy="342.5" r="5" fill="url(#gb)"/><circle cx="1808.4" cy="374.6" r="5" fill="url(#gb)"/><circle cx="1877.1" cy="406.7" r="5" fill="url(#gb)"/><circle cx="1408.8" cy="438.8" r="5" fill="url(#gb)"/><circle cx="1408.8" cy="470.9" r="5" fill="url(#gb)"/><circle cx="1408.8" cy="503" r="5" fill="url(#gb)"/><circle cx="1408.8" cy="535.1" r="5" fill="url(#gb)"/><circle cx="1408.8" cy="567.2" r="5" fill="url(#gb)"/><circle cx="1408.8" cy="599.3" r="5" fill="url(#gb)"/><circle cx="1408.8" cy="631.4" r="5" fill="url(#gb)"/><circle cx="1408.8" cy="663.5" r="5" fill="url(#gb)"/><circle cx="1408.8" cy="695.6" r="5" fill="url(#gb)"/><circle cx="1408.8" cy="727.7" r="5" fill="url(#gb)"/><circle cx="1408.8" cy="759.8" r="5" fill="url(#gb)"/></g>
<g clip-path="url(#c3)"><polyline points="2004,58.4 2004,85.7 2004,117.8 1950.4,149.9 1942.1,182 1957.6,214.1 1925.1,246.2 1937.3,278.3 1927.8,310.4 1916.9,342.5 1906.3,374.6 1916.9,406.7 1408.8,438.8 1408.8,470.9 1408.8,503 1408.8,535.1 1408.8,567.2 1408.8,599.3 1408.8,631.4 1408.8,663.5 1408.8,695.6 1408.8,727.7 1408.8,759.8" fill="none" stroke="#18ec18" stroke-width="2.4" stroke-linejoin="round"/><rect x="1999.2" y="53.6" width="9.6" height="9.6" fill="url(#gg)"/><rect x="1999.2" y="80.9" width="9.6" height="9.6" fill="url(#gg)"/><rect x="1999.2" y="113" width="9.6" height="9.6" fill="url(#gg)"/><rect x="1945.6" y="145.1" width="9.6" height="9.6" fill="url(#gg)"/><rect x="1937.3" y="177.2" width="9.6" height="9.6" fill="url(#gg)"/><rect x="1952.8" y="209.3" width="9.6" height="9.6" fill="url(#gg)"/><rect x="1920.3" y="241.4" width="9.6" height="9.6" fill="url(#gg)"/><rect x="1932.5" y="273.5" width="9.6" height="9.6" fill="url(#gg)"/><rect x="1923" y="305.6" width="9.6" height="9.6" fill="url(#gg)"/><rect x="1912.1" y="337.7" width="9.6" height="9.6" fill="url(#gg)"/><rect x="1901.5" y="369.8" width="9.6" height="9.6" fill="url(#gg)"/><rect x="1912.1" y="401.9" width="9.6" height="9.6" fill="url(#gg)"/><rect x="1404" y="434" width="9.6" height="9.6" fill="url(#gg)"/><rect x="1404" y="466.1" width="9.6" height="9.6" fill="url(#gg)"/><rect x="1404" y="498.2" width="9.6" height="9.6" fill="url(#gg)"/><rect x="1404" y="530.3" width="9.6" height="9.6" fill="url(#gg)"/><rect x="1404" y="562.4" width="9.6" height="9.6" fill="url(#gg)"/><rect x="1404" y="594.5" width="9.6" height="9.6" fill="url(#gg)"/><rect x="1404" y="626.6" width="9.6" height="9.6" fill="url(#gg)"/><rect x="1404" y="658.7" width="9.6" height="9.6" fill="url(#gg)"/><rect x="1404" y="690.8" width="9.6" height="9.6" fill="url(#gg)"/><rect x="1404" y="722.9" width="9.6" height="9.6" fill="url(#gg)"/><rect x="1404" y="755" width="9.6" height="9.6" fill="url(#gg)"/></g>
<g clip-path="url(#c3)"><polyline points="1687.1,58.4 1684.9,85.7 1601.5,117.8 1561.3,149.9 1554.2,182 1577,214.1 1540,246.2 1559.4,278.3 1550.8,310.4 1540.8,342.5 1531.5,374.6 1549.8,406.7 1408.8,438.8 1408.8,470.9 1408.8,503 1408.8,535.1 1408.8,567.2 1411.5,599.3 1408.8,631.4 1408.8,663.5 1408.8,695.6 1408.8,727.7 1408.8,759.8" fill="none" stroke="#ff1c1c" stroke-width="2.4" stroke-linejoin="round"/><path d="M1687.1 52.4L1693.1 58.4L1687.1 64.4L1681.1 58.4Z" fill="url(#gr)"/><path d="M1684.9 79.7L1690.9 85.7L1684.9 91.7L1678.9 85.7Z" fill="url(#gr)"/><path d="M1601.5 111.8L1607.5 117.8L1601.5 123.8L1595.5 117.8Z" fill="url(#gr)"/><path d="M1561.3 143.9L1567.3 149.9L1561.3 155.9L1555.3 149.9Z" fill="url(#gr)"/><path d="M1554.2 176L1560.2 182L1554.2 188L1548.2 182Z" fill="url(#gr)"/><path d="M1577 208.1L1583 214.1L1577 220.1L1571 214.1Z" fill="url(#gr)"/><path d="M1540 240.2L1546 246.2L1540 252.2L1534 246.2Z" fill="url(#gr)"/><path d="M1559.4 272.3L1565.4 278.3L1559.4 284.3L1553.4 278.3Z" fill="url(#gr)"/><path d="M1550.8 304.4L1556.8 310.4L1550.8 316.4L1544.8 310.4Z" fill="url(#gr)"/><path d="M1540.8 336.5L1546.8 342.5L1540.8 348.5L1534.8 342.5Z" fill="url(#gr)"/><path d="M1531.5 368.6L1537.5 374.6L1531.5 380.6L1525.5 374.6Z" fill="url(#gr)"/><path d="M1549.8 400.7L1555.8 406.7L1549.8 412.7L1543.8 406.7Z" fill="url(#gr)"/><path d="M1408.8 432.8L1414.8 438.8L1408.8 444.8L1402.8 438.8Z" fill="url(#gr)"/><path d="M1408.8 464.9L1414.8 470.9L1408.8 476.9L1402.8 470.9Z" fill="url(#gr)"/><path d="M1408.8 497L1414.8 503L1408.8 509L1402.8 503Z" fill="url(#gr)"/><path d="M1408.8 529.1L1414.8 535.1L1408.8 541.1L1402.8 535.1Z" fill="url(#gr)"/><path d="M1408.8 561.2L1414.8 567.2L1408.8 573.2L1402.8 567.2Z" fill="url(#gr)"/><path d="M1411.5 593.3L1417.5 599.3L1411.5 605.3L1405.5 599.3Z" fill="url(#gr)"/><path d="M1408.8 625.4L1414.8 631.4L1408.8 637.4L1402.8 631.4Z" fill="url(#gr)"/><path d="M1408.8 657.5L1414.8 663.5L1408.8 669.5L1402.8 663.5Z" fill="url(#gr)"/><path d="M1408.8 689.6L1414.8 695.6L1408.8 701.6L1402.8 695.6Z" fill="url(#gr)"/><path d="M1408.8 721.7L1414.8 727.7L1408.8 733.7L1402.8 727.7Z" fill="url(#gr)"/><path d="M1408.8 753.8L1414.8 759.8L1408.8 765.8L1402.8 759.8Z" fill="url(#gr)"/></g>
<rect x="1755.5" y="869.6" width="236.2" height="132.9" fill="#fff" stroke="#dfe1cf" stroke-width="1.6"/>
<line x1="1760.1" y1="881.9" x2="1782.1" y2="881.9" stroke="#1c1cff" stroke-width="2"/>
<circle cx="1771.1" cy="881.9" r="8.7" fill="url(#gb)"/>
<text x="1787.9" y="886.9" class="l" textLength="140" lengthAdjust="spacingAndGlyphs">Cetin [Prob.] (2004)</text>
<line x1="1760.1" y1="903.9" x2="1782.1" y2="903.9" stroke="#18ec18" stroke-width="2"/>
<rect x="1762.4" y="895.2" width="17.4" height="17.4" fill="url(#gg)"/>
<text x="1787.9" y="908.9" class="l" textLength="130" lengthAdjust="spacingAndGlyphs">Liao [Prob.] (1998)</text>
<line x1="1760.1" y1="925.9" x2="1782.1" y2="925.9" stroke="#ff1c1c" stroke-width="2"/>
<path d="M1771.1 915L1782 925.9L1771.1 936.8L1760.2 925.9Z" fill="url(#gr)"/>
<text x="1787.9" y="930.9" class="l" textLength="195" lengthAdjust="spacingAndGlyphs">Youd &amp; Noble [Prob.] (2001)</text>
<rect x="1338" y="0" width="1.6" height="34" fill="#f3f3f3"/>
<rect x="1337.2" y="35.2" width="2.2" height="1.8" fill="#8a8a8a"/>
<rect x="1337.6" y="728.5" width="1.8" height="9" fill="#eef0f6"/>
<rect x="1337.2" y="737.6" width="2.2" height="1.6" fill="#b0b0b0"/>
</svg></body></html>
